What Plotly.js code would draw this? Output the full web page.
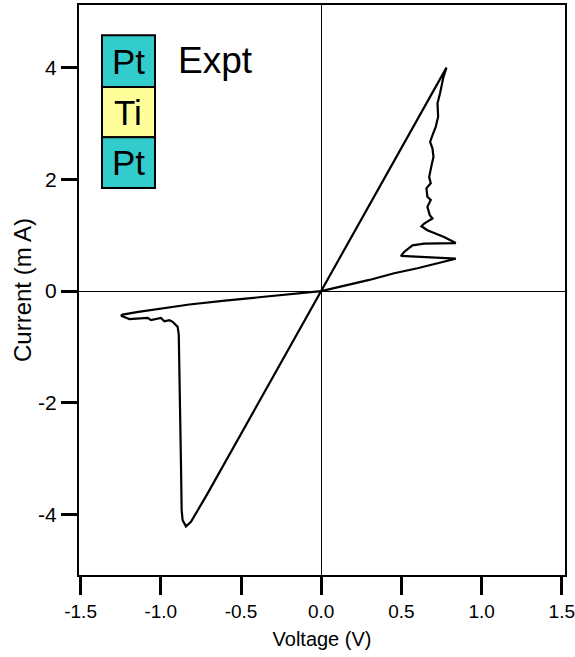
<!DOCTYPE html>
<html>
<head>
<meta charset="utf-8">
<script src="https://cdn.plot.ly/plotly-3.0.1.min.js"></script>
<style>html,body{margin:0;padding:0;background:#fff;}#chart{width:575px;height:657px;}</style>
</head>
<body>
<div id="chart"></div>
<script>
// I-V sweep (closed loop), voltage in V, current in mA
const voltage = [
  0, 0.30, 0.455, 0.60, 0.839,
  0.559, 0.497, 0.517, 0.569, 0.642, 0.839,
  0.766, 0.662, 0.625,
  0.642, 0.694, 0.677, 0.662, 0.683, 0.662, 0.656, 0.683, 0.673, 0.690, 0.700,
  0.694, 0.679, 0.694, 0.714, 0.729, 0.725, 0.741, 0.762, 0.781,
  0, -0.708, -0.812, -0.843, -0.864, -0.870, -0.874, -0.880, -0.885, -0.888,
  -0.895, -0.905, -0.926, -0.947, -0.978, -0.999, -1.030, -1.061, -1.082, -1.134, -1.196, -1.248,
  -1.238, -1.150, -1.072, -0.950, -0.822, -0.600, -0.262, 0
];
const current = [
  0, 0.20, 0.32, 0.41, 0.58,
  0.61, 0.63, 0.70, 0.82, 0.85, 0.86,
  0.97, 1.09, 1.16,
  1.21, 1.30, 1.36, 1.51, 1.63, 1.69, 1.84, 1.93, 2.04, 2.28, 2.40,
  2.55, 2.67, 2.79, 2.94, 3.12, 3.36, 3.54, 3.83, 4.00,
  0, -3.62, -4.13, -4.21, -4.10, -3.92, -3.14, -1.95, -0.95, -0.78,
  -0.64, -0.61, -0.55, -0.52, -0.54, -0.48, -0.50, -0.52, -0.48, -0.49, -0.50, -0.44,
  -0.42, -0.375, -0.34, -0.29, -0.24, -0.17, -0.07, 0
];
const xTickVals = [-1.5, -1.0, -0.5, 0.0, 0.5, 1.0, 1.5];
const xTickText = ["-1.5", "-1.0", "-0.5", "0.0", "0.5", "1.0", "1.5"];
const yTickVals = [-4, -2, 0, 2, 4];
const yTickText = ["-4", "-2", "0", "2", "4"];
const stackLabels = ["Pt", "Ti", "Pt"];
const stackColors = ["#33CCCC", "#FFFF99", "#33CCCC"];
const panelLabel = "Expt";

const FONT = "'Liberation Sans', Arial, sans-serif";

const trace = {
  x: voltage, y: current, type: 'scatter', mode: 'lines',
  line: {color: '#000', width: 2.2}, hoverinfo: 'skip'
};

// stack boxes (paper coordinates)
const boxTop = [0.947, 0.856, 0.768];
const boxBot = [0.856, 0.768, 0.679];
const shapes = stackLabels.map((s, i) => ({
  type: 'rect', xref: 'paper', yref: 'paper',
  x0: 0.0473, x1: 0.1564, y0: boxBot[i], y1: boxTop[i],
  fillcolor: stackColors[i], line: {color: '#000', width: 2}, layer: 'above'
}));
const annotations = stackLabels.map((s, i) => ({
  xref: 'paper', yref: 'paper', x: 0.1018, y: (boxTop[i] + boxBot[i]) / 2,
  text: s, showarrow: false, xanchor: 'center', yanchor: 'middle',
  font: {family: FONT, size: 35, color: '#000'}
}));
annotations.push({
  xref: 'paper', yref: 'paper', x: 0.28, y: 0.903, text: panelLabel,
  showarrow: false, xanchor: 'center', yanchor: 'middle',
  font: {family: FONT, size: 37, color: '#000'}
});

const layout = {
  width: 575, height: 657,
  margin: {l: 79, r: 10, t: 5, b: 82},
  paper_bgcolor: '#fff', plot_bgcolor: '#fff',
  showlegend: false,
  xaxis: {
    range: [-1.51, 1.52], tickvals: xTickVals, ticktext: xTickText,
    ticklabeloverflow: 'allow',
    showline: true, mirror: true, linecolor: '#000', linewidth: 2,
    ticks: 'outside', ticklen: 18, tickwidth: 3, tickcolor: '#000',
    showgrid: false, zeroline: true, zerolinecolor: '#000', zerolinewidth: 1,
    tickfont: {family: FONT, size: 19, color: '#000'},
    title: {text: 'Voltage (V)', font: {family: FONT, size: 20, color: '#000'}, standoff: 11}
  },
  yaxis: {
    range: [-5.08, 5.12], tickvals: yTickVals, ticktext: yTickText,
    showline: true, mirror: true, linecolor: '#000', linewidth: 2,
    ticks: 'outside', ticklen: 16, tickwidth: 3, tickcolor: '#000',
    showgrid: false, zeroline: true, zerolinecolor: '#000', zerolinewidth: 1,
    tickfont: {family: FONT, size: 21, color: '#000'},
    title: {text: 'Current (m A)', font: {family: FONT, size: 24, color: '#000'}, standoff: 0}
  },
  shapes: shapes,
  annotations: annotations
};

Plotly.newPlot('chart', [trace], layout, {staticPlot: true, displayModeBar: false});
</script>
</body>
</html>
